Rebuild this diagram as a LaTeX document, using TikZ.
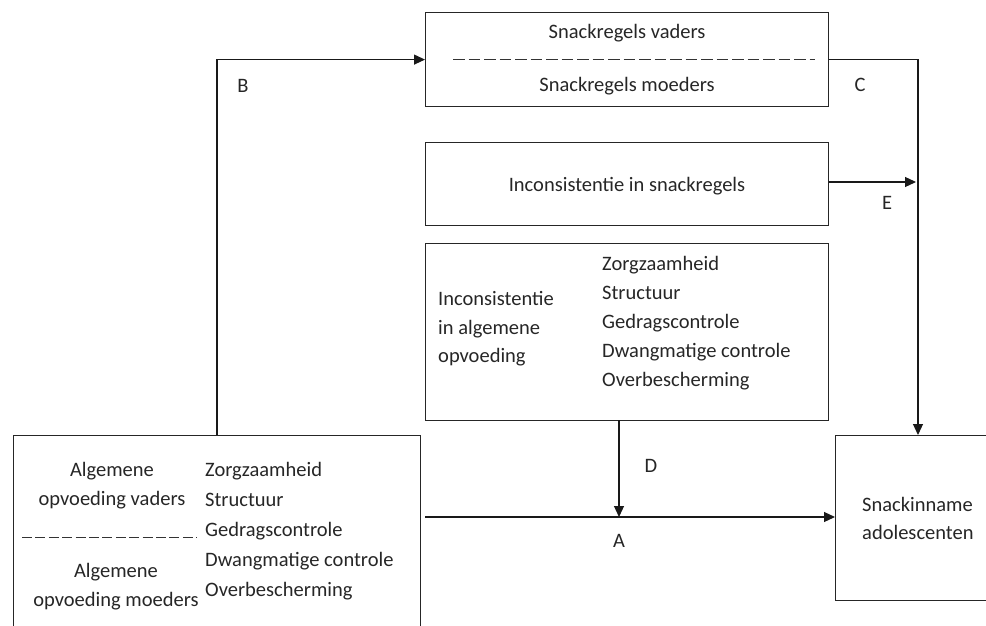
\documentclass[tikz,border=0pt]{standalone}
\usepackage{fontspec}
\setmainfont{Carlito}
\usetikzlibrary{arrows.meta}
\begin{document}
\begin{tikzpicture}[x=1pt,y=-1pt,
  box/.style={draw=black!85, line width=1.2pt, inner sep=0pt, anchor=north west},
  arr/.style={-{Triangle[length=11pt,width=10pt]}, line width=1.2pt, draw=black!90},
  dashline/.style={line width=1pt, draw=black!80, dash pattern=on 11.5pt off 4pt},
  txt/.style={font=\fontsize{20.5}{29}\selectfont, inner sep=0pt, text=black!85},
  lbl/.style={font=\fontsize{20.5}{24}\selectfont, inner sep=0pt, text=black!85},
  lst/.style={txt, align=left, anchor=north west},
  ]
\useasboundingbox (0,0) rectangle (986,626);
\clip (0,0) rectangle (986,626);
% boxes
\node[box, minimum width=403pt, minimum height=94pt] (top) at (425,12) {};
\node[box, minimum width=403pt, minimum height=83pt] (incs) at (425,142) {};
\node[box, minimum width=403pt, minimum height=177pt] (inca) at (425,243) {};
\node[box, minimum width=407pt, minimum height=230pt] (alg) at (13,435) {};
\node[box, minimum width=200pt, minimum height=165pt] (snack) at (835,435) {};
% texts top box
\node[txt] (tv) at (627,33) {Snackregels vaders};
\node[txt] (tm) at (627,86) {Snackregels moeders};
\coordinate (td1) at (453,60);
\coordinate (td2) at (815,60);
\draw[dashline] (td1) -- (td2);
% middle box
\node[txt] (tis) at (627,186) {Inconsistentie in snackregels};
% third box
\node[lst, font=\fontsize{20.5}{28.5}\selectfont] (ial) at (438,291.5) {Inconsistentie\\in algemene\\opvoeding};
\node[lst] (ilst) at (602,256.5) {Zorgzaamheid\\Structuur\\Gedragscontrole\\Dwangmatige controle\\Overbescherming};
% left box
\node[txt, align=center] (av) at (112,486) {Algemene\\opvoeding vaders};
\node[txt, align=center] (am) at (116,587) {Algemene\\opvoeding moeders};
\coordinate (ld1) at (22,537);
\coordinate (ld2) at (197,537);
\draw[dashline, dash pattern=on 10pt off 3.4pt] (ld1) -- (ld2);
\node[lst, font=\fontsize{20.5}{30}\selectfont] (alst) at (205,462.5) {Zorgzaamheid\\Structuur\\Gedragscontrole\\Dwangmatige controle\\Overbescherming};
% right box
\node[txt, align=left, anchor=west, font=\fontsize{20.5}{28}\selectfont] (sn) at (862,518) {Snackinname\\adolescenten};
% connectors
\coordinate (bstart) at (217,435);
\draw[arr] (bstart) |- (top.west);
\coordinate (cend) at (918,435);
\draw[arr] (top.east) -| (cend);
\coordinate (eend) at (916,182);
\draw[arr] (incs.east |- eend) -- (eend);
\coordinate (astart) at (425,517);
\draw[arr] (astart) -- (astart -| snack.west);
\coordinate (dtop) at (619,420);
\draw[arr] (dtop) -- (dtop |- astart);
% labels
\node[lbl] (lB) at (243,86) {B};
\node[lbl] (lC) at (860,85) {C};
\node[lbl] (lE) at (887,203) {E};
\node[lbl] (lD) at (651,466) {D};
\node[lbl] (lA) at (619,541) {A};
\end{tikzpicture}
\end{document}
